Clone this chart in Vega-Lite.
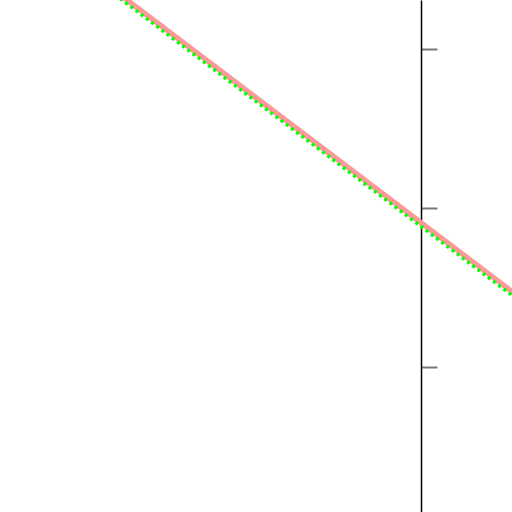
{
  "$schema": "https://vega.github.io/schema/vega-lite/v6.json",
  "width": 512,
  "height": 512,
  "padding": 0,
  "autosize": {"type": "none"},
  "config": {"view": {"stroke": null}},
  "data": {"values": [
    {"series": "a", "x": -3, "y": 2.183},
    {"series": "a", "x": 1, "y": -0.849},
    {"series": "b", "x": -3, "y": 2.16},
    {"series": "b", "x": 1, "y": -0.872}
  ]},
  "encoding": {
    "x": {"field": "x", "type": "quantitative", "scale": {"domain": [-2.648, 0.572], "nice": false, "zero": false}, "axis": null},
    "y": {"field": "y", "type": "quantitative", "scale": {"domain": [-1.911, 1.311], "nice": false, "zero": false},
      "axis": {"orient": "right", "offset": -91, "values": [-1, 0, 1], "labels": false, "title": null, "grid": false,
        "domainColor": "#000000", "domainWidth": 1.5, "tickColor": "#777777", "tickWidth": 2, "tickSize": 16}}
  },
  "layer": [
    {"transform": [{"filter": "datum.series == 'a'"}], "mark": {"type": "line", "clip": true, "color": "#ff9999", "strokeWidth": 5.5}},
    {"transform": [{"filter": "datum.series == 'b'"}], "mark": {"type": "line", "clip": true, "color": "#00ff00", "strokeWidth": 3.5, "strokeDash": [3, 3.5]}}
  ]
}
